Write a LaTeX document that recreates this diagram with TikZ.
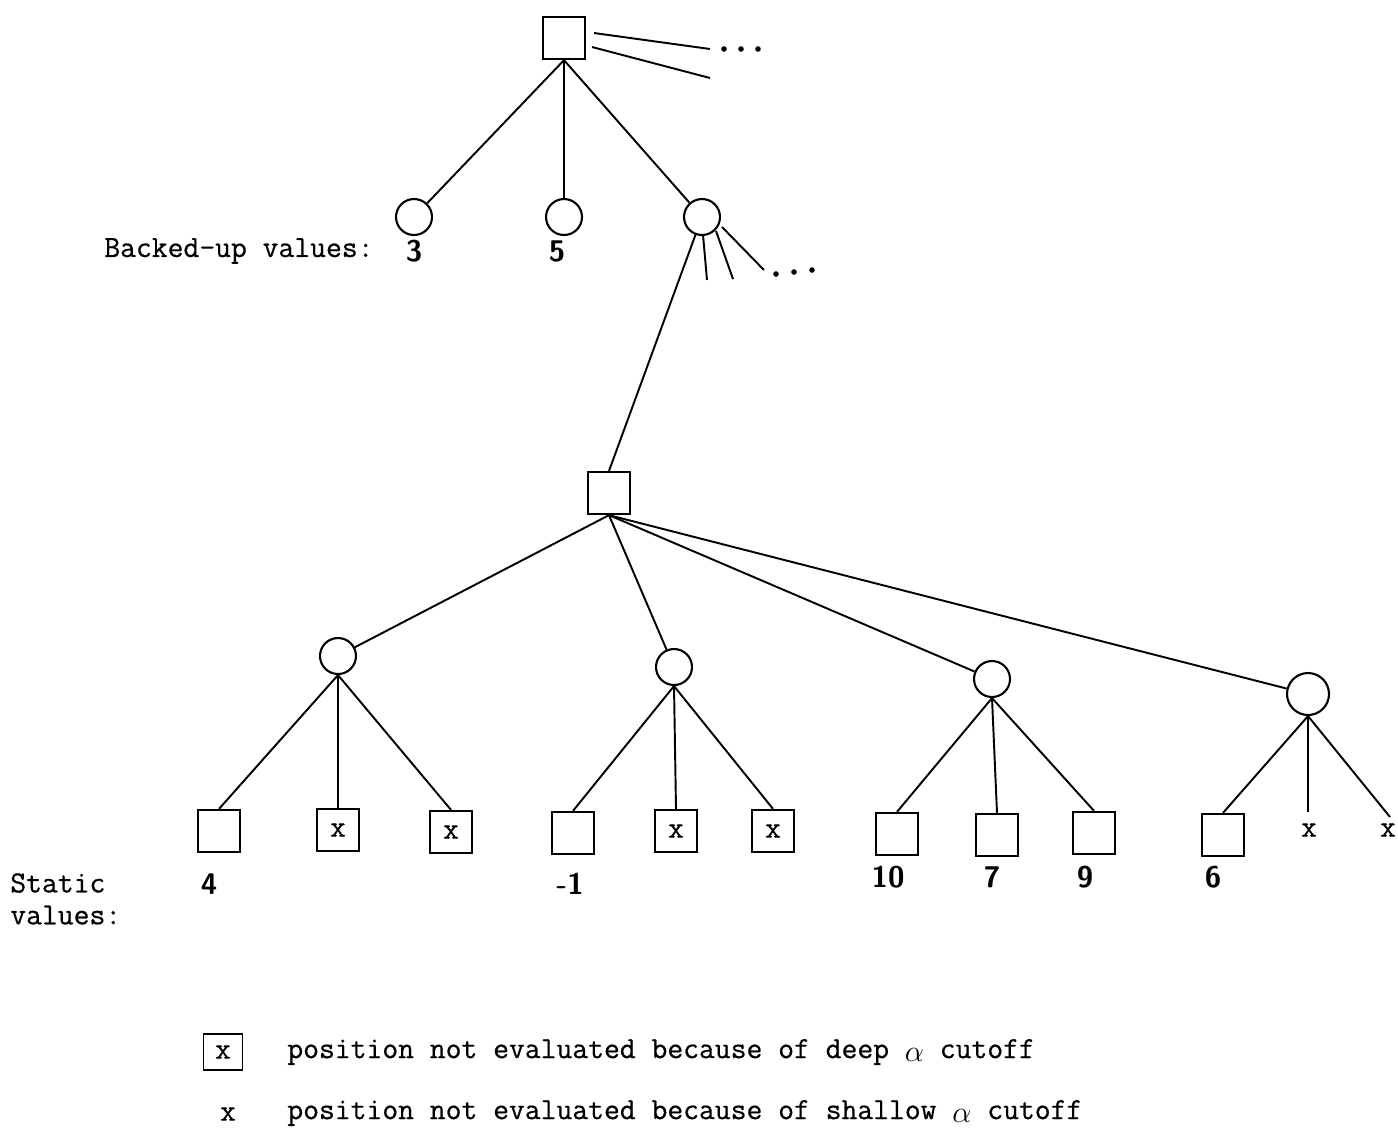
\documentclass[tikz,border=0pt]{standalone}
\usepackage{fontspec}
\newfontfamily\twfont{Latin Modern Mono}[FakeBold=0.6]
\begin{document}
\begin{tikzpicture}[x=0.02cm,y=-0.02cm,
  sq/.style={draw,line width=1.3pt,minimum size=0.84cm,inner sep=0pt,font=\twfont\fontsize{17.5}{20}\selectfont},
  cir/.style={draw,circle,line width=1.2pt,minimum size=0.72cm,inner sep=0pt},
  edge/.style={line width=1.1pt},
  num/.style={font=\sffamily\bfseries\fontsize{17}{20}\selectfont,inner sep=0pt},
  lab/.style={font=\twfont\fontsize{17.5}{20}\selectfont,inner sep=0pt,anchor=west},
  sx/.style={font=\twfont\fontsize{17.5}{20}\selectfont,inner sep=0pt},
  dot/.style={fill=black}]
\useasboundingbox (0,0) rectangle (1398,1134);
% top
\node[sq] (T) at (564,38) {};
\node[cir] (A) at (414,217) {};
\node[cir] (B) at (564,217) {};
\node[cir] (C) at (702,217) {};
\draw[edge] (T.south) -- (A);
\draw[edge] (T.south) -- (B);
\draw[edge] (T.south) -- (C);
\coordinate (t1s) at (594,33); \coordinate (t1e) at (710,49);
\coordinate (t2s) at (592,47); \coordinate (t2e) at (710,78);
\draw[edge] (t1s) -- (t1e);
\draw[edge] (t2s) -- (t2e);
\fill[dot] (724,49) circle (2.8) (741,49) circle (2.8) (758,49) circle (2.8);
\node[num] (v3) at (414,251) {3};
\node[num] (v5) at (557,251) {5};
\node[lab] (bu) at (104,251) {Backed-up values:};
% middle
\node[sq] (M) at (609,493) {};
\draw[edge] (C) -- (M.north);
\coordinate (c1s) at (703,235); \coordinate (c1e) at (707,280);
\coordinate (c2s) at (716,231); \coordinate (c2e) at (733,279);
\coordinate (c3s) at (722,227); \coordinate (c3e) at (764,270);
\draw[edge] (c1s) -- (c1e);
\draw[edge] (c2s) -- (c2e);
\draw[edge] (c3s) -- (c3e);
\fill[dot] (776,274) circle (2.8) (794,272) circle (2.8) (812,270) circle (2.8);
% level 3 circles
\node[cir] (P) at (338,656) {};
\node[cir] (Q) at (674,667) {};
\node[cir] (R) at (992,679) {};
\node[cir,minimum size=0.84cm] (S) at (1308,694) {};
\draw[edge] (M.south) -- (P);
\draw[edge] (M.south) -- (Q);
\draw[edge] (M.south) -- (R);
\draw[edge] (M.south) -- (S);
% leaves
\node[sq] (L1) at (219,831) {};
\node[sq] (L2) at (338,830) {x};
\node[sq] (L3) at (451,832) {x};
\node[sq] (L4) at (573,833) {};
\node[sq] (L5) at (676,831) {x};
\node[sq] (L6) at (773,831) {x};
\node[sq] (L7) at (897,834) {};
\node[sq] (L8) at (997,835) {};
\node[sq] (L9) at (1094,833) {};
\node[sq] (L10) at (1223,835) {};
\node[sx] (X1) at (1309,830) {x};
\node[sx] (X2) at (1388,830) {x};
\coordinate (x1e) at (1308,812);
\coordinate (x2e) at (1390,817);
\draw[edge] (P.south) -- (L1.north);
\draw[edge,line width=0.9pt] (P.south) -- (L2.north);
\draw[edge] (P.south) -- (L3.north);
\draw[edge] (Q.south) -- (L4.north);
\draw[edge] (Q.south) -- (L5.north);
\draw[edge] (Q.south) -- (L6.north);
\draw[edge] (R.south) -- (L7.north);
\draw[edge] (R.south) -- (L8.north);
\draw[edge] (R.south) -- (L9.north);
\draw[edge] (S.south) -- (L10.north);
\draw[edge,line width=1.6pt] (S.south) -- (x1e);
\draw[edge] (S.south) -- (x2e);
% static values
\node[num] (n4) at (209,884) {4};
\node[num] (nm1) at (570,884) {-1};
\node[num] (n10) at (888,877) {10};
\node[num] (n7) at (992,877) {7};
\node[num] (n9) at (1085,877) {9};
\node[num] (n6) at (1213,877) {6};
\node[lab] (st1) at (10,883) {Static};
\node[lab] (st2) at (10,915) {values:};
% legend
\node[sq,minimum width=0.78cm,minimum height=0.72cm,line width=1.1pt] (LB) at (223,1052) {x};
\node[lab] (LT1) at (287,1052) {position not evaluated because of deep \raisebox{-0.12em}{\fontsize{17}{20}\selectfont$\alpha$} cutoff};
\node[sx] (LX) at (228,1114) {x};
\node[lab] (LT2) at (287,1113) {position not evaluated because of shallow \raisebox{-0.12em}{\fontsize{17}{20}\selectfont$\alpha$} cutoff};
\end{tikzpicture}
\end{document}
